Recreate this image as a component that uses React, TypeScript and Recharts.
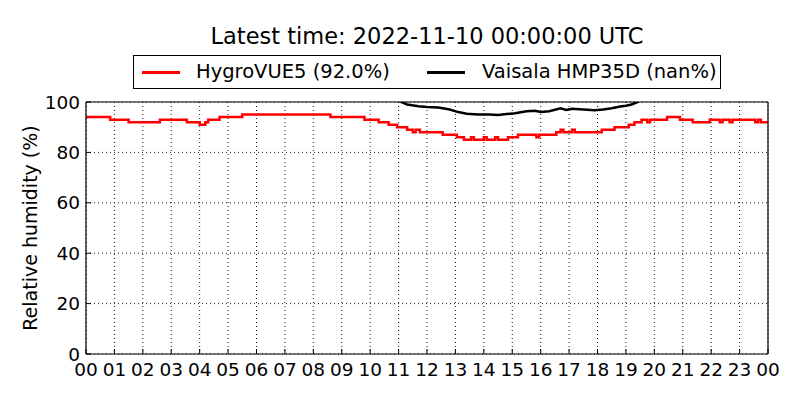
import React from 'react';
import { LineChart, Line, XAxis, YAxis, CartesianGrid, Legend } from 'recharts';

const titleText = 'Latest time: 2022-11-10 00:00:00 UTC';
const seriesNames = ['HygroVUE5 (92.0%)', 'Vaisala HMP35D (nan%)'];
const seriesColors = ['#ff0000', '#000000'];

const hourTicks = [0, 1, 2, 3, 4, 5, 6, 7, 8, 9, 10, 11, 12, 13, 14, 15, 16, 17, 18, 19, 20, 21, 22, 23, 24];
const humidityTicks = [0, 20, 40, 60, 80, 100];

const redHours = [0, 0.85, 1.5, 2.6, 3.55, 4.0, 4.2, 4.3, 4.7, 5.5, 8.6, 9.8, 10.3, 10.65, 10.95, 11.3, 11.5, 11.6, 11.75, 12.55, 13.05, 13.3, 13.55, 13.65, 14.0, 14.1, 14.4, 14.5, 14.85, 15.2, 15.85, 15.95, 16.55, 16.7, 16.8, 17.1, 17.2, 18.15, 18.6, 19.1, 19.3, 19.55, 19.75, 19.85, 20.45, 20.9, 21.35, 21.95, 22.3, 22.4, 22.65, 22.75, 23.55, 23.65, 23.75, 24];
const redValues = [94, 93, 92, 93, 92, 91, 92, 93, 94, 95, 94, 93, 92, 91, 90, 89, 88, 89, 88, 87, 86, 85, 86, 85, 86, 85, 86, 85, 86, 87, 86, 87, 88, 89, 88, 89, 88, 89, 90, 91, 92, 93, 92, 93, 94, 93, 92, 93, 92, 93, 92, 93, 92, 93, 92, 92];

const blackHours = [11.0, 11.3, 11.7, 12.0, 12.4, 12.8, 13.1, 13.4, 13.8, 14.2, 14.5, 14.8, 15.1, 15.5, 15.8, 16.0, 16.3, 16.7, 16.9, 17.1, 17.5, 17.9, 18.2, 18.5, 18.8, 19.0, 19.2, 19.45];
const blackValues = [100.5, 99, 98.3, 98, 97.8, 97, 96, 95.3, 95, 95, 94.8, 95.2, 95.5, 96.3, 96.5, 96, 96.3, 97.5, 96.8, 97.3, 97, 96.7, 97, 97.5, 98.2, 98.5, 99, 100.2];

const redData = redHours.map((h, i) => ({ hour: h, value: redValues[i] }));
const blackData = blackHours.map((h, i) => ({ hour: h, value: blackValues[i] }));

const FONT = 'DejaVu Sans, sans-serif';

const LegendBox = (props: any) => {
  const payload = props.payload || [];
  const linePos = [8, 293];
  const textPos = [62, 348];
  return (
    <div
      style={{
        width: 588,
        height: 34,
        boxSizing: 'border-box',
        border: '1px solid #000',
        background: '#fff',
        position: 'relative',
        fontFamily: FONT,
        fontSize: 19.5,
        color: '#000',
      }}
    >
      {payload.map((p: any, i: number) => (
        <React.Fragment key={i}>
          <div
            style={{
              position: 'absolute',
              left: linePos[i],
              top: 15,
              width: 38,
              height: 3,
              background: p.color,
            }}
          />
          <div
            style={{
              position: 'absolute',
              left: textPos[i],
              top: 0,
              lineHeight: '32px',
              whiteSpace: 'nowrap',
            }}
          >
            {p.value}
          </div>
        </React.Fragment>
      ))}
    </div>
  );
};

const YLabel = () => (
  <text
    x={30}
    y={228}
    transform="rotate(-90 30 228)"
    textAnchor="middle"
    dominantBaseline="central"
    fontSize={19}
    fontFamily={FONT}
    fill="#000"
  >
    Relative humidity (%)
  </text>
);

const fmtHour = (h: number) => String(h % 24).padStart(2, '0');

export default function App() {
  return (
    <div style={{ position: 'absolute', left: 0, top: 0, width: 800, height: 400, background: '#fff', fontFamily: FONT }}>
      <div
        style={{
          position: 'absolute',
          left: 86,
          width: 682,
          top: 21,
          textAlign: 'center',
          fontSize: 22.5,
          lineHeight: '30px',
          color: '#000',
          whiteSpace: 'nowrap',
          zIndex: 2,
        }}
      >
        {titleText}
      </div>
      <LineChart width={800} height={400} margin={{ top: 92, right: 22, bottom: 0, left: 0 }}>
        <CartesianGrid stroke="#000" strokeDasharray="1 3" strokeWidth={0.9} />
        <XAxis
          dataKey="hour"
          type="number"
          domain={[0, 24]}
          ticks={hourTicks}
          interval={0}
          allowDataOverflow
          tickFormatter={fmtHour}
          height={46}
          tickSize={-5}
          tickMargin={14}
          stroke="#000"
          axisLine={{ stroke: '#000', strokeWidth: 1.2 }}
          tickLine={{ stroke: '#000' }}
          tick={{ fill: '#000', fontSize: 18.5, fontFamily: FONT }}
        />
        <XAxis
          xAxisId="top"
          orientation="top"
          dataKey="hour"
          type="number"
          domain={[0, 24]}
          ticks={hourTicks}
          interval={0}
          height={10}
          tickSize={-5}
          axisLine={{ stroke: '#000', strokeWidth: 1.2 }}
          tickLine={{ stroke: '#000' }}
          tick={false}
        />
        <YAxis
          type="number"
          domain={[0, 100]}
          ticks={humidityTicks}
          interval={0}
          allowDataOverflow
          width={86}
          tickSize={-5}
          tickMargin={11}
          axisLine={{ stroke: '#000', strokeWidth: 1.2 }}
          tickLine={{ stroke: '#000' }}
          tick={{ fill: '#000', fontSize: 18.5, fontFamily: FONT }}
          label={<YLabel />}
        />
        <YAxis
          yAxisId="right"
          orientation="right"
          type="number"
          domain={[0, 100]}
          ticks={humidityTicks}
          interval={0}
          width={10}
          tickSize={-5}
          axisLine={{ stroke: '#000', strokeWidth: 1.2 }}
          tickLine={{ stroke: '#000' }}
          tick={false}
        />
        <Legend
          verticalAlign="middle"
          layout="horizontal"
          content={<LegendBox />}
          wrapperStyle={{ left: 133, top: 55, width: 588, height: 34 }}
        />
        <Line
          data={redData}
          dataKey="value"
          name={seriesNames[0]}
          type="stepAfter"
          stroke={seriesColors[0]}
          strokeWidth={2.5}
          dot={false}
          activeDot={false}
          isAnimationActive={false}
        />
        <Line
          data={blackData}
          dataKey="value"
          name={seriesNames[1]}
          type="linear"
          stroke={seriesColors[1]}
          strokeWidth={2.5}
          dot={false}
          activeDot={false}
          isAnimationActive={false}
        />
      </LineChart>
    </div>
  );
}
